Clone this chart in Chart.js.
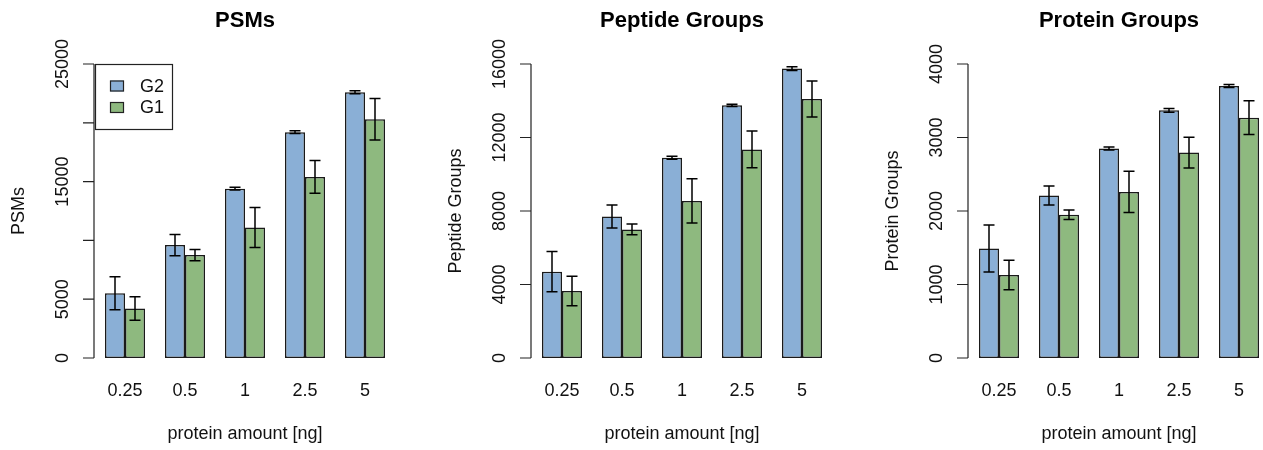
<!DOCTYPE html>
<html>
<head>
<meta charset="utf-8">
<script src="https://cdn.jsdelivr.net/npm/chart.js@4/dist/chart.umd.min.js"></script>
<style>
html, body { margin: 0; padding: 0; background: #fff; overflow: hidden; width: 1263px; height: 450px; }
.panel { position: absolute; top: 0; height: 450px; }
</style>
</head>
<body>
<div class="panel" style="left:0px;width:421px"><canvas id="cPsm"></canvas></div>
<div class="panel" style="left:421px;width:421px"><canvas id="cPep"></canvas></div>
<div class="panel" style="left:842px;width:432px"><canvas id="cProt"></canvas></div>
<script>
var categorias = ['0.25', '0.5', '1', '2.5', '5'];
var grupos = ['G2', 'G1'];

var psmG2 = [5500, 9600, 14400, 19200, 22600];
var psmG2Err = [1400, 900, 120, 120, 120];
var psmG1 = [4200, 8750, 11100, 15400, 20300];
var psmG1Err = [1000, 470, 1700, 1400, 1770];
var psmTicks = [0, 5000, 10000, 15000, 20000, 25000];
var psmTickLabels = ['0', '5000', '', '15000', '', '25000'];

var pepG2 = [4700, 7700, 10900, 13750, 15750];
var pepG2Err = [1100, 630, 80, 60, 100];
var pepG1 = [3650, 7000, 8550, 11350, 14100];
var pepG1Err = [800, 290, 1200, 1000, 980];
var pepTicks = [0, 4000, 8000, 12000, 16000];
var pepTickLabels = ['0', '4000', '8000', '12000', '16000'];

var protG2 = [1490, 2210, 2850, 3370, 3700];
var protG2Err = [320, 130, 20, 25, 20];
var protG1 = [1130, 1950, 2260, 2795, 3270];
var protG1Err = [200, 65, 280, 210, 230];
var protTicks = [0, 1000, 2000, 3000, 4000];
var protTickLabels = ['0', '1000', '2000', '3000', '4000'];

var colores = ['#8aafd6', '#8eb97f'];
var fuente = '"Liberation Sans", Arial, sans-serif';

// dibuja ejes, textos, barras de error y leyenda al estilo de R
var rPlot = {
    id: 'rPlot',
    afterDatasetsDraw: function (chart) {
        var o = chart.options.plugins.rPlot;
        var ctx = chart.ctx;
        var area = chart.chartArea;
        var sy = chart.scales.y;
        var sx = chart.scales.x;
        var ejeX = area.left - 1;
        ctx.save();

        // barras de error
        ctx.strokeStyle = '#000';
        ctx.lineWidth = 1.5;
        for (var d = 0; d < 2; d++) {
            var meta = chart.getDatasetMeta(d);
            var errs = o.errores[d];
            var vals = chart.data.datasets[d].data;
            for (var i = 0; i < vals.length; i++) {
                var bx = meta.data[i].x;
                var yTop = sy.getPixelForValue(vals[i] + errs[i]);
                var yBot = sy.getPixelForValue(vals[i] - errs[i]);
                ctx.beginPath();
                ctx.moveTo(bx, yTop); ctx.lineTo(bx, yBot);
                ctx.moveTo(bx - 5.5, yTop); ctx.lineTo(bx + 5.5, yTop);
                ctx.moveTo(bx - 5.5, yBot); ctx.lineTo(bx + 5.5, yBot);
                ctx.stroke();
            }
        }

        // eje y
        ctx.lineWidth = 1.2;
        ctx.strokeStyle = '#222';
        var ticks = o.ticks;
        ctx.beginPath();
        ctx.moveTo(ejeX, sy.getPixelForValue(ticks[0]));
        ctx.lineTo(ejeX, sy.getPixelForValue(ticks[ticks.length - 1]));
        for (var t = 0; t < ticks.length; t++) {
            var ty = sy.getPixelForValue(ticks[t]);
            ctx.moveTo(ejeX, ty); ctx.lineTo(ejeX - 11, ty);
        }
        ctx.stroke();

        ctx.fillStyle = '#111';
        ctx.font = '18px ' + fuente;
        ctx.textAlign = 'center';
        ctx.textBaseline = 'middle';
        for (var t = 0; t < ticks.length; t++) {
            if (!o.tickLabels[t]) continue;
            ctx.save();
            ctx.translate(ejeX - 31, sy.getPixelForValue(ticks[t]));
            ctx.rotate(-Math.PI / 2);
            ctx.fillText(o.tickLabels[t], 0, 0);
            ctx.restore();
        }

        // titulo eje y
        ctx.save();
        ctx.translate(ejeX - 75, (area.top + area.bottom) / 2);
        ctx.rotate(-Math.PI / 2);
        ctx.fillText(o.tituloY, 0, 0);
        ctx.restore();

        // etiquetas eje x
        for (var i = 0; i < categorias.length; i++) {
            ctx.fillText(categorias[i], sx.getPixelForValue(i), 391);
        }
        ctx.fillText('protein amount [ng]', (area.left + area.right) / 2, 434);

        // titulo
        ctx.font = 'bold 22px ' + fuente;
        ctx.fillStyle = '#000';
        ctx.fillText(o.titulo, (area.left + area.right) / 2, 21);

        // leyenda
        if (o.leyenda) {
            ctx.lineWidth = 1.2;
            ctx.strokeStyle = '#222';
            ctx.strokeRect(area.left + 0.5, area.top + 0.5, 77, 65);
            ctx.font = '18px ' + fuente;
            ctx.textAlign = 'left';
            ctx.fillStyle = '#111';
            for (var g = 0; g < grupos.length; g++) {
                var ly = area.top + 22 + g * 21.5;
                ctx.fillStyle = colores[g];
                ctx.fillRect(area.left + 15, ly - 5.5, 14, 11);
                ctx.strokeRect(area.left + 15.5, ly - 5, 13, 10);
                ctx.fillStyle = '#111';
                ctx.fillText(grupos[g], area.left + 45, ly + 1);
            }
        }
        ctx.restore();
    }
};

function crearPanel(id, izq, ancho, titulo, tituloY, g2, g1, g2Err, g1Err, ticks, tickLabels, leyenda) {
    var canvas = document.getElementById(id);
    return new Chart(canvas, {
        type: 'bar',
        data: {
            labels: categorias,
            datasets: [{
                label: grupos[0],
                data: g2,
                backgroundColor: colores[0],
                borderColor: '#1a1a1a',
                borderWidth: 1.5,
                borderSkipped: false
            }, {
                label: grupos[1],
                data: g1,
                backgroundColor: colores[1],
                borderColor: '#1a1a1a',
                borderWidth: 1.5,
                borderSkipped: false
            }]
        },
        options: {
            responsive: true,
            maintainAspectRatio: false,
            animation: false,
            layout: {
                padding: { left: izq, right: ancho - izq - 300, top: 64, bottom: 92 }
            },
            categoryPercentage: 40 / 60,
            barPercentage: 1,
            scales: {
                x: { display: false, offset: true },
                y: { display: false, min: ticks[0], max: ticks[ticks.length - 1] }
            },
            plugins: {
                legend: { display: false },
                tooltip: { enabled: false },
                rPlot: {
                    titulo: titulo,
                    tituloY: tituloY,
                    errores: [g2Err, g1Err],
                    ticks: ticks,
                    tickLabels: tickLabels,
                    leyenda: leyenda
                }
            }
        },
        plugins: [rPlot]
    });
}

crearPanel('cPsm', 95, 421, 'PSMs', 'PSMs', psmG2, psmG1, psmG2Err, psmG1Err, psmTicks, psmTickLabels, true);
crearPanel('cPep', 111, 421, 'Peptide Groups', 'Peptide Groups', pepG2, pepG1, pepG2Err, pepG1Err, pepTicks, pepTickLabels, false);
crearPanel('cProt', 127, 432, 'Protein Groups', 'Protein Groups', protG2, protG1, protG2Err, protG1Err, protTicks, protTickLabels, false);
</script>
</body>
</html>
